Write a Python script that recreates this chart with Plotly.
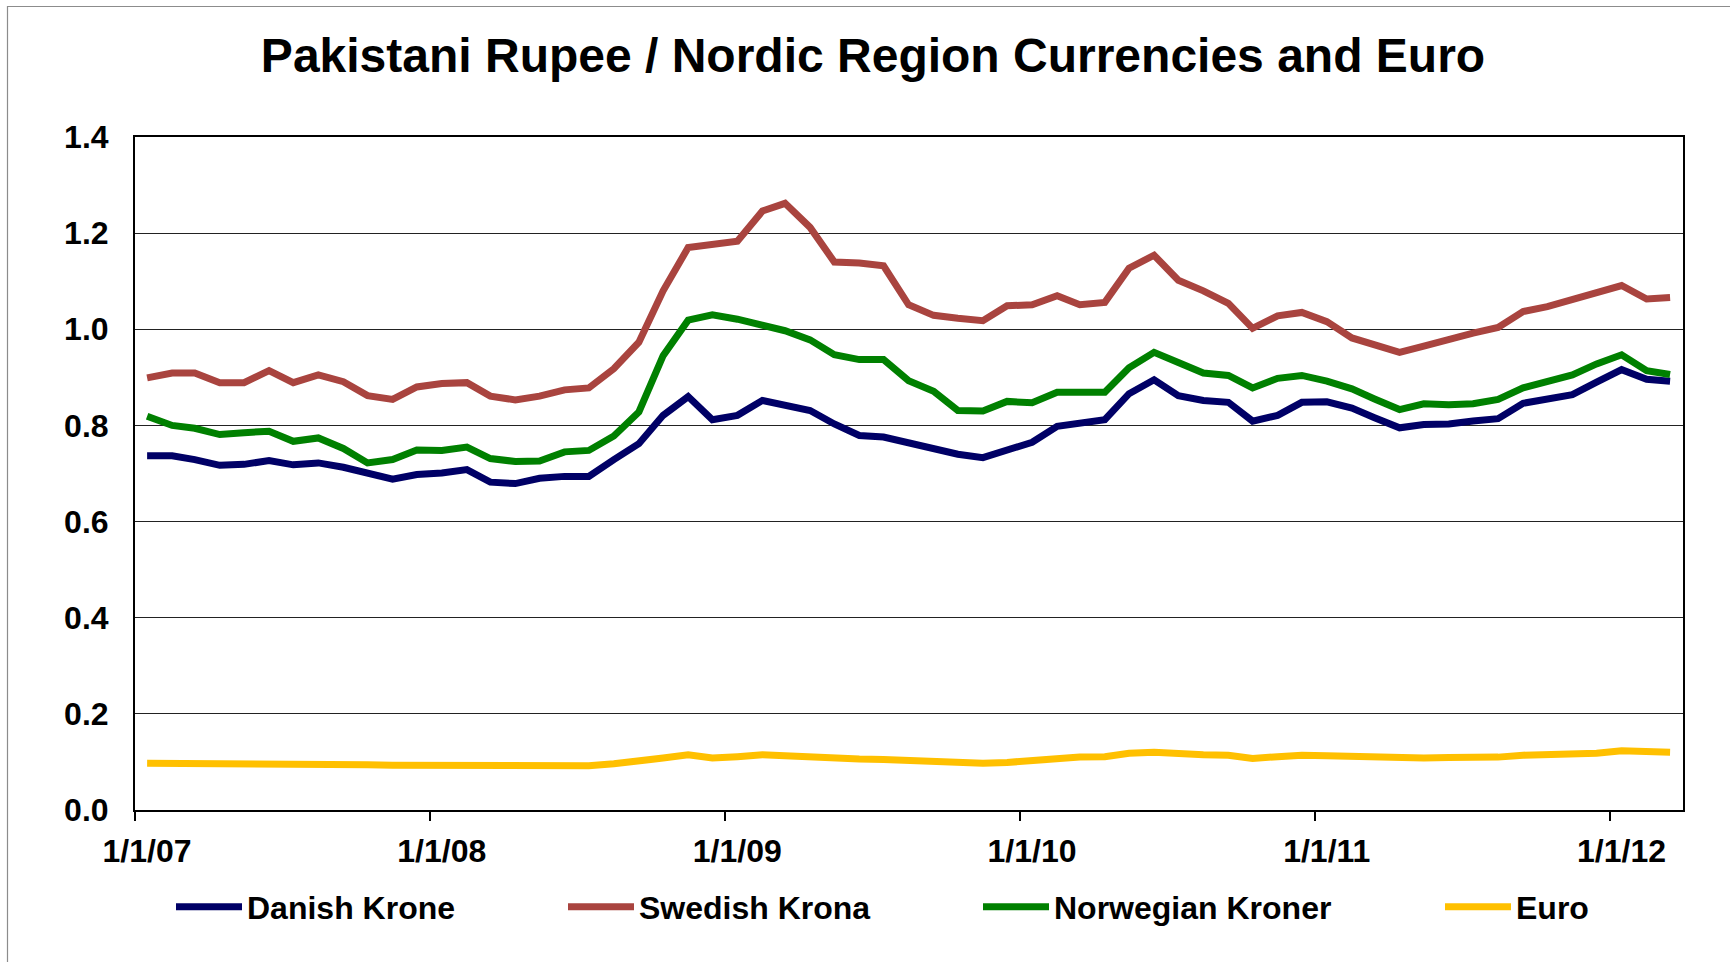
import pandas as pd
import plotly.graph_objects as go

# ---- data (monthly, Jan 2007 - Mar 2012) ----
start_month = "2007-01-01"
n_months = 63
danish = [0.737, 0.737, 0.729, 0.717, 0.719, 0.727, 0.718, 0.722, 0.713, 0.700,
          0.688, 0.698, 0.701, 0.708, 0.682, 0.679, 0.690, 0.694, 0.694, 0.729,
          0.762, 0.821, 0.860, 0.812, 0.821, 0.852, 0.842, 0.831, 0.803, 0.779,
          0.776, 0.765, 0.754, 0.740, 0.733, 0.749, 0.765, 0.798, 0.803, 0.812,
          0.866, 0.895, 0.862, 0.852, 0.848, 0.809, 0.821, 0.848, 0.849, 0.836,
          0.816, 0.795, 0.802, 0.803, 0.809, 0.814, 0.846, 0.854, 0.864, 0.890,
          0.916, 0.896, 0.892]
swedish = [0.899, 0.909, 0.909, 0.889, 0.889, 0.914, 0.889, 0.905, 0.891, 0.862,
           0.854, 0.880, 0.887, 0.889, 0.861, 0.853, 0.861, 0.874, 0.878, 0.918,
           0.973, 1.080, 1.170, 1.176, 1.183, 1.246, 1.262, 1.212, 1.140, 1.138,
           1.132, 1.051, 1.029, 1.023, 1.018, 1.049, 1.051, 1.070, 1.051, 1.056,
           1.127, 1.154, 1.102, 1.080, 1.054, 1.002, 1.028, 1.035, 1.016, 0.982,
           0.968, 0.952, 0.965, 0.980, 0.992, 1.004, 1.037, 1.047, 1.062, 1.079,
           1.091, 1.063, 1.066]
norwegian = [0.819, 0.800, 0.794, 0.781, 0.785, 0.788, 0.767, 0.774, 0.752, 0.722,
             0.729, 0.749, 0.748, 0.755, 0.731, 0.725, 0.726, 0.745, 0.748, 0.778,
             0.828, 0.945, 1.019, 1.030, 1.021, 1.010, 0.997, 0.978, 0.947, 0.937,
             0.937, 0.893, 0.871, 0.831, 0.830, 0.850, 0.847, 0.869, 0.869, 0.869,
             0.920, 0.952, 0.931, 0.909, 0.904, 0.878, 0.898, 0.904, 0.892, 0.876,
             0.855, 0.833, 0.845, 0.843, 0.845, 0.854, 0.878, 0.892, 0.905, 0.928,
             0.947, 0.914, 0.906]
euro = [0.097, 0.097, 0.097, 0.096, 0.096, 0.097, 0.097, 0.097, 0.096, 0.094,
        0.093, 0.093, 0.094, 0.094, 0.092, 0.091, 0.092, 0.093, 0.092, 0.096,
        0.101, 0.108, 0.115, 0.108, 0.111, 0.115, 0.113, 0.110, 0.108, 0.106,
        0.105, 0.103, 0.101, 0.099, 0.097, 0.099, 0.103, 0.109, 0.110, 0.111,
        0.118, 0.120, 0.116, 0.115, 0.114, 0.107, 0.111, 0.114, 0.113, 0.111,
        0.109, 0.108, 0.108, 0.109, 0.109, 0.110, 0.114, 0.115, 0.116, 0.118,
        0.123, 0.120, 0.120]

series_names = ["Danish Krone", "Swedish Krona", "Norwegian Kroner", "Euro"]
series_colors = ["#000066", "#A9443F", "#008000", "#FFC000"]
tick_dates = ["2007-01-01", "2008-01-01", "2009-01-01", "2010-01-01", "2011-01-01", "2012-01-01"]
tick_labels = ["1/1/07", "1/1/08", "1/1/09", "1/1/10", "1/1/11", "1/1/12"]
title_text = "Pakistani Rupee / Nordic Region Currencies and Euro"

# points sit in the middle of each month slot
months = pd.date_range(start_month, periods=n_months, freq="MS") + pd.Timedelta(days=15)

FONT = "Liberation Sans, Arial, sans-serif"
W, H = 1730, 962
ML, MR, MT, MB = 135, 47, 137, 152
PW = W - ML - MR
PH = H - MT - MB

def px_to_paper_x(px):
    return (px - ML) / PW

def px_to_paper_y(py):
    return (H - MB - py) / PH

fig = go.Figure()
legend_ids = ["legend", "legend2", "legend3", "legend4"]
for vals, name, color, lg in zip([danish, swedish, norwegian, euro], series_names, series_colors, legend_ids):
    fig.add_trace(go.Scatter(
        x=months, y=vals, name=name, mode="lines",
        line=dict(color=color, width=7),
        legend=lg,
    ))

legend_line_starts = [177, 569, 984, 1446]
legend_y = px_to_paper_y(907)
legend_layout = {}
for lg, lx in zip(legend_ids, legend_line_starts):
    legend_layout[lg] = dict(
        orientation="h", x=px_to_paper_x(lx - 6), xanchor="left",
        y=legend_y, yanchor="middle", bgcolor="rgba(0,0,0,0)",
        font=dict(family=FONT, size=32, color="#000000", weight="bold"),
        itemwidth=66,
    )

fig.update_layout(
    width=W, height=H,
    margin=dict(l=ML, r=MR, t=MT, b=MB, autoexpand=False),
    paper_bgcolor="white", plot_bgcolor="white",
    title=dict(text=title_text, x=873 / W, xanchor="center", y=1 - 55 / H, yanchor="middle",
               font=dict(family=FONT, size=48, color="#000000", weight="bold")),
    showlegend=True,
    **legend_layout,
)

fig.update_xaxes(
    type="date", range=["2007-01-01", "2012-04-01"],
    tickvals=tick_dates, ticktext=tick_labels,
    ticks="outside", ticklen=9, tickwidth=1.5, tickcolor="#000000",
    showline=True, linecolor="#000000", linewidth=2, mirror=True,
    showgrid=False, zeroline=False,
    tickfont=dict(family=FONT, size=32, color="#000000", weight="bold"),
    ticklabelshift=12, ticklabelstandoff=3,
)
fig.update_yaxes(
    range=[0, 1.4], dtick=0.2, tick0=0, tickformat=".1f",
    showline=True, linecolor="#000000", linewidth=2, mirror=True,
    showgrid=True, gridcolor="#222222", gridwidth=1.3,
    zeroline=False, ticks="",
    tickfont=dict(family=FONT, size=32, color="#000000", weight="bold"),
    ticklabelstandoff=18,
)

# outer chart frame (left and top edges visible, others off-page)
fig.add_shape(type="rect", xref="paper", yref="paper",
              x0=px_to_paper_x(7.5), x1=px_to_paper_x(W + 10),
              y0=px_to_paper_y(H + 10), y1=px_to_paper_y(6.5),
              line=dict(color="#8c8c8c", width=1.2), fillcolor="rgba(0,0,0,0)", layer="below")

fig.write_html("out.html", config={"displayModeBar": False},
               post_script="document.body.style.margin='0';")
